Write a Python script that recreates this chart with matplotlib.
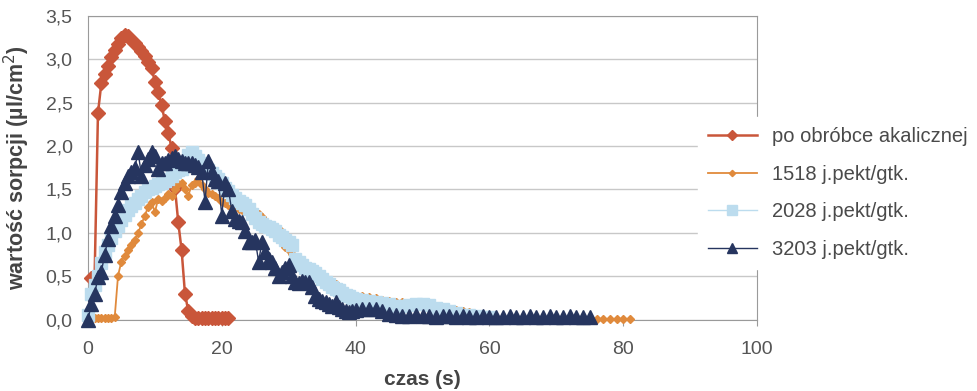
import numpy as np
import matplotlib
matplotlib.use("Agg")
import matplotlib.pyplot as plt
from matplotlib.ticker import FuncFormatter

plt.rcParams['font.family'] = ['Liberation Sans', 'DejaVu Sans']

# czas (s) i wartosci sorpcji
t_alk = np.arange(0.5, 21.01, 0.5)
v_alk = [0.48, 0.50, 2.38, 2.72, 2.83, 2.92, 3.02, 3.10, 3.17, 3.24,
         3.28, 3.26, 3.22, 3.18, 3.14, 3.09, 3.03, 2.97, 2.90, 2.74,
         2.62, 2.47, 2.29, 2.15, 1.98, 1.52, 1.12, 0.80, 0.30, 0.10,
         0.04, 0.02, 0.02, 0.02, 0.02, 0.02, 0.02, 0.02, 0.02, 0.02,
         0.02, 0.02]

t_1518 = np.concatenate([np.arange(0.5, 40.01, 0.5), np.arange(41, 81.01, 1)])
v_1518 = [0.02, 0.02, 0.02, 0.02, 0.02, 0.02, 0.02, 0.03,
          0.51, 0.67, 0.74, 0.80, 0.86, 0.92, 1.00, 1.10, 1.20, 1.30,
          1.36, 1.24, 1.39, 1.37, 1.40, 1.45, 1.43, 1.51, 1.56, 1.57,
          1.50, 1.43, 1.55, 1.58, 1.62, 1.55, 1.50, 1.46, 1.45, 1.42,
          1.40, 1.36, 1.34, 1.32, 1.31, 1.30, 1.28, 1.26, 1.25, 1.24,
          1.23, 1.22, 1.22, 1.18, 1.14, 1.10, 1.08, 1.07, 1.05, 0.90,
          0.84, 0.80, 0.76, 0.72, 0.69, 0.67, 0.64, 0.62, 0.58, 0.54,
          0.50, 0.47, 0.45, 0.43, 0.42, 0.41, 0.38, 0.35, 0.33, 0.31,
          0.29, 0.28,
          0.27, 0.26, 0.25, 0.23, 0.22, 0.21, 0.20, 0.19, 0.18, 0.16,
          0.15, 0.14, 0.13, 0.12, 0.11, 0.10, 0.09, 0.07, 0.05, 0.03,
          0.01, 0.01, 0.01, 0.01, 0.01, 0.01, 0.01, 0.01, 0.01, 0.01,
          0.01, 0.01, 0.01, 0.01, 0.01, 0.01, 0.01, 0.01, 0.01, 0.01,
          0.01]

t_2028 = np.concatenate([np.arange(0, 40.01, 0.5), np.arange(41, 60.01, 1)])
v_2028 = [0.05, 0.30, 0.40, 0.50, 0.65, 0.78, 0.86, 0.94, 1.02, 1.08,
          1.15, 1.21, 1.26, 1.31, 1.35, 1.39, 1.43, 1.47, 1.50, 1.52,
          1.54, 1.56, 1.58, 1.60, 1.62, 1.66, 1.70, 1.72, 1.74, 1.80,
          1.90, 1.93, 1.88, 1.84, 1.80, 1.76, 1.72, 1.69, 1.66, 1.62,
          1.57, 1.52, 1.48, 1.44, 1.40, 1.37, 1.35, 1.32, 1.27, 1.22,
          1.17, 1.13, 1.10, 1.08, 1.07, 1.05, 1.02, 0.98, 0.95, 0.92,
          0.89, 0.86, 0.70, 0.66, 0.63, 0.60, 0.58, 0.56, 0.54, 0.51,
          0.47, 0.44, 0.41, 0.38, 0.36, 0.34, 0.31, 0.29, 0.27, 0.25,
          0.24,
          0.23, 0.22, 0.20, 0.19, 0.18, 0.16, 0.16, 0.17, 0.18, 0.18,
          0.17, 0.14, 0.12, 0.10, 0.08, 0.06, 0.05, 0.04, 0.03, 0.03]

t_3203 = np.concatenate([np.arange(0, 40.01, 0.5), np.arange(41, 75.01, 1)])
v_3203 = [0.00, 0.18, 0.30, 0.49, 0.55, 0.75, 0.93, 1.08, 1.20, 1.32,
          1.47, 1.58, 1.66, 1.70, 1.75, 1.93, 1.66, 1.78, 1.85, 1.93,
          1.89, 1.74, 1.80, 1.81, 1.84, 1.86, 1.89, 1.85, 1.83, 1.81,
          1.80, 1.81, 1.78, 1.76, 1.70, 1.36, 1.83, 1.70, 1.62, 1.60,
          1.20, 1.58, 1.50, 1.25, 1.16, 1.14, 1.13, 1.02, 0.89, 0.90,
          0.92, 0.67, 0.89, 0.78, 0.70, 0.67, 0.60, 0.51, 0.55, 0.60,
          0.63, 0.50, 0.44, 0.42, 0.45, 0.44, 0.44, 0.38, 0.28, 0.24,
          0.22, 0.20, 0.18, 0.16, 0.20, 0.15, 0.12, 0.10, 0.09, 0.10,
          0.11,
          0.12, 0.13, 0.13, 0.10, 0.07, 0.05, 0.04, 0.04, 0.05, 0.04,
          0.04, 0.03, 0.04, 0.04, 0.03, 0.04, 0.03, 0.03, 0.04, 0.03,
          0.03, 0.03, 0.04, 0.03, 0.03, 0.04, 0.03, 0.03, 0.04, 0.03,
          0.03, 0.04, 0.03, 0.03, 0.03]

labels = ['po obróbce akalicznej', '1518 j.pekt/gtk.',
          '2028 j.pekt/gtk.', '3203 j.pekt/gtk.']

fig = plt.figure(figsize=(9.77, 3.91), dpi=100)
ax = fig.add_axes([0.090, 0.182, 0.685, 0.778])

ax.plot(t_alk, v_alk, '-D', color='#c9563a', lw=1.8, ms=7, label=labels[0],
        zorder=3, clip_on=False)
ax.plot(t_1518, v_1518, '-D', color='#e08a3c', lw=1.3, ms=4, label=labels[1],
        zorder=4, clip_on=False)
ax.plot(t_2028, v_2028, '-s', color='#bcdcee', lw=1.0, ms=8.5, label=labels[2],
        zorder=5, clip_on=False)
ax.plot(t_3203, v_3203, '-^', color='#26355f', lw=1.0, ms=9.5, label=labels[3],
        zorder=6, clip_on=False)

ax.set_xlim(0, 100)
ax.set_ylim(0, 3.5)
ax.set_xticks(range(0, 101, 20))
ax.set_yticks(np.arange(0, 3.51, 0.5))
ax.yaxis.set_major_formatter(FuncFormatter(lambda v, p: f'{v:.1f}'.replace('.', ',')))
ax.grid(axis='y', color='#c8c8c8', lw=1)
ax.set_axisbelow(True)
for s in ax.spines.values():
    s.set_color('#9a9a9a')
ax.tick_params(colors='#555555', labelsize=14, length=4, color='#9a9a9a')
ax.tick_params(axis='x', pad=11)
ax.tick_params(axis='y', length=0, pad=11)
ax.set_xlabel('czas (s)', fontsize=15, fontweight='bold', color='#444444', labelpad=9)
ax.set_ylabel('wartość sorpcji (µl/cm$^2$)', fontsize=15.5, fontweight='bold',
              color='#444444', labelpad=10)

leg = fig.legend(loc='center left', bbox_to_anchor=(0.714, 0.506), fontsize=14.5,
                 frameon=True, facecolor='white', edgecolor='white', framealpha=1,
                 handlelength=2.43, handletextpad=0.75, labelspacing=0.92,
                 borderpad=0.5, borderaxespad=0, markerscale=0.8)
for txt in leg.get_texts():
    txt.set_color('#4a4a4a')

fig.savefig('out.png', dpi=100, facecolor='white')
